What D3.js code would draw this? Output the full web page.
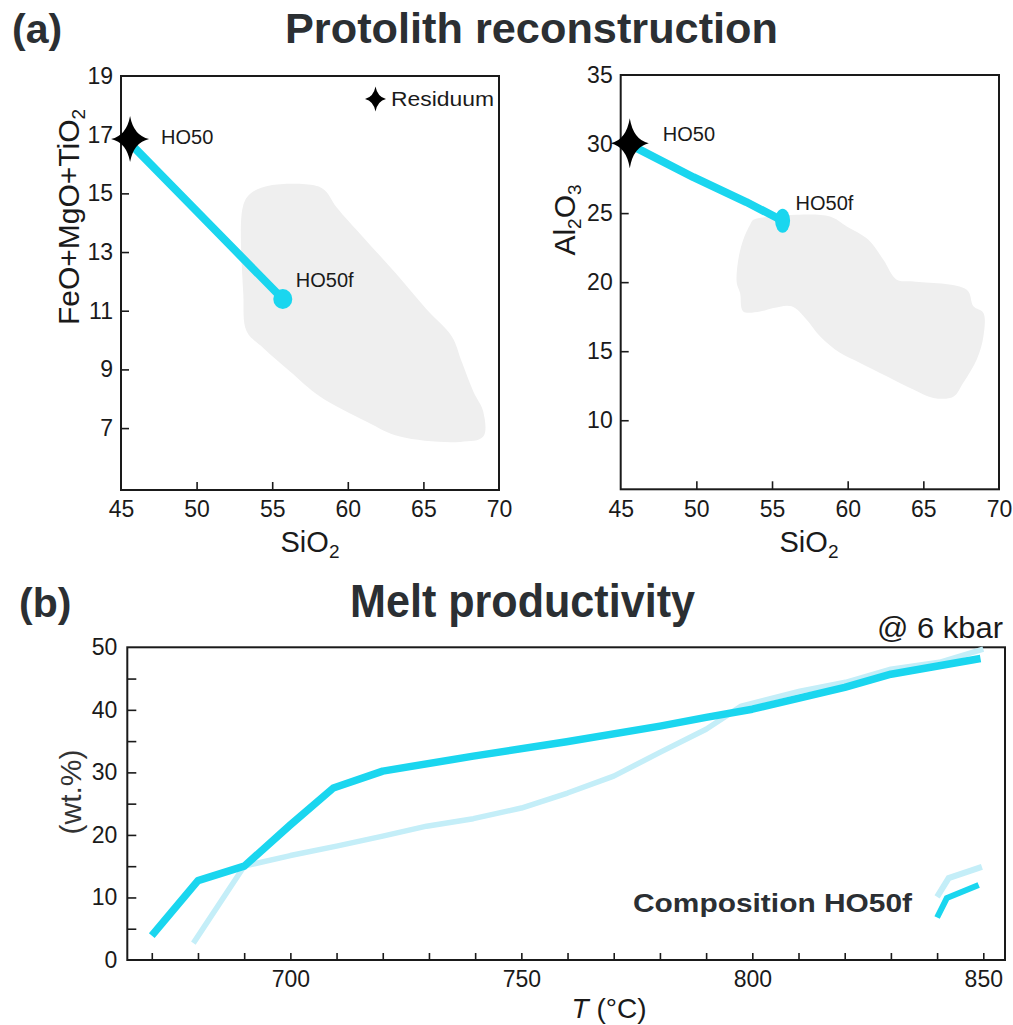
<!DOCTYPE html>
<html><head><meta charset="utf-8">
<script src="https://cdn.jsdelivr.net/npm/d3@7"></script>
<style>
body{margin:0;background:#fff;}
svg{display:block;font-family:Arial,"Liberation Sans",Helvetica,sans-serif;}
.axis path,.axis line{stroke:#1a1a1a;}
.axis text{fill:#1a1a1a;}
</style></head><body>
<svg id="c" width="1013" height="1025"></svg>
<script>
// ---------- DATA ----------
const sio2Ticks = [45, 50, 55, 60, 65, 70];
const femgtiTicks = [7, 9, 11, 13, 15, 17, 19];
const al2o3Ticks = [10, 15, 20, 25, 30, 35];
const sampleNames = ["HO50", "HO50f"];
const sampleSiO2 = [45.6, 55.7];
const sampleFeMgTi = [16.85, 11.4];
const sampleAl2O3 = [30.05, 24.45];
const feoTrendSiO2 = [45.8, 49.8, 55.7];
const feoTrendVal = [16.6, 14.5, 11.4];
const alTrendSiO2 = [45.8, 49.8, 53.3, 55.7];
const alTrendVal = [29.85, 27.6, 25.8, 24.45];
const feoFieldSiO2 = [53.53,54.85,57.83,58.49,59.27,61.03,63.23,65.22,66.87,67.53,68.3,68.96,68.96,67.44,63.45,61.25,58.16,56.18,54.41,53.31,53.09,53.05];
const feoFieldVal  = [14.98,15.27,15.27,15.1,14.52,13.5,12.24,11.04,10.13,9.27,8.25,7.56,6.71,6.53,6.71,7.22,8.08,8.93,9.73,10.3,11.56,14.52];
const alFieldSiO2 = [53.77,55.09,56.63,58.83,59.94,61.37,62.36,63.24,64.34,67.87,68.31,68.97,68.97,68.53,67.64,66.98,65.66,64.34,62.58,60.82,59.49,58.17,57.29,56.3,55.09,54.21,53.1,52.89,52.67,52.77,53.1,53.55];
const alFieldVal  = [24.52,24.75,24.88,24.75,24.03,23.07,21.62,20.18,20.05,19.45,18.25,17.77,16.08,14.39,12.71,11.7,11.62,12.22,13.18,14.15,14.88,16.08,17.28,18.25,18.13,17.88,17.88,19.21,19.94,21.62,23.07,24.15];

const tempTicks = [670,680,690,700,710,720,730,740,750,760,770,780,790,800,810,820,830,840,850];
const tempLabels = [700, 750, 800, 850];
const meltTicks = [0,5,10,15,20,25,30,35,40,45,50];
const meltLabels = [0,10,20,30,40,50];
const ho50fT    = [670, 680, 690, 700, 709.3, 720, 739.6, 759.8, 780, 790, 800, 820, 830, 849.4];
const ho50fMelt = [3.9, 12.7, 15.0, 21.6, 27.5, 30.2, 32.6, 34.9, 37.4, 38.8, 40.1, 43.6, 45.7, 48.2];
const ho50T     = [679, 690, 700, 710, 720, 729.5, 739.6, 750, 760, 770, 780, 790, 797.6, 810.3, 820.2, 830, 840.5, 850];
const ho50Melt  = [2.7, 15.0, 16.7, 18.2, 19.8, 21.4, 22.6, 24.3, 26.7, 29.4, 33.2, 36.9, 40.6, 43.0, 44.4, 46.5, 47.6, 49.7];
const legendLightT = [840, 842.5, 849.7], legendLightMelt = [10.1, 13.1, 14.9];
const legendDarkT  = [840, 842.1, 849],   legendDarkMelt  = [6.8, 9.9, 12.0];

// ---------- STYLE ----------
const CYAN = "#1ad6ef", LIGHT = "#c4eef8", FIELD = "#efefef", INK = "#1a1a1a", TITLE = "#2b2f33";
const svg = d3.select("#c");
const zip = (a, b) => a.map((v, i) => [v, b[i]]);

function starPath(W, H, k) {
  return `M0,${-H} Q${k},${-k} ${W},0 Q${k},${k} 0,${H} Q${-k},${k} ${-W},0 Q${-k},${-k} 0,${-H} Z`;
}

function frame(g, x, y, xTicks, yTicks) {
  const [x0, x1] = x.range(), [y0, y1] = y.range();
  g.append("rect").attr("x", x0).attr("y", y1).attr("width", x1 - x0).attr("height", y0 - y1)
    .attr("fill", "none").attr("stroke", INK).attr("stroke-width", 2);
  const ax = g.append("g").attr("class", "axis").attr("transform", `translate(0,${y0})`)
    .call(d3.axisBottom(x).tickValues(xTicks).tickSize(-8).tickPadding(11).tickFormat(d3.format("d")));
  ax.select(".domain").remove();
  ax.selectAll("line").attr("stroke-width", 1.6);
  ax.selectAll("text").attr("font-size", 23).attr("dy", "0.71em");
  const ay = g.append("g").attr("class", "axis").attr("transform", `translate(${x0},0)`)
    .call(d3.axisLeft(y).tickValues(yTicks).tickSize(-8).tickPadding(8).tickFormat(d3.format("d")));
  ay.select(".domain").remove();
  ay.selectAll("line").attr("stroke-width", 1.6);
  ay.selectAll("text").attr("font-size", 23);
  return {ax, ay};
}

// ---------- TITLES ----------
svg.append("text").attr("x", 12).attr("y", 43).attr("font-size", 41).attr("font-weight", "bold").attr("fill", TITLE).text("(a)");
svg.append("text").attr("x", 285).attr("y", 43).attr("font-size", 42).attr("font-weight", "bold").attr("fill", TITLE)
  .attr("textLength", 493).attr("lengthAdjust", "spacingAndGlyphs").text("Protolith reconstruction");
svg.append("text").attr("x", 19).attr("y", 617).attr("font-size", 41).attr("font-weight", "bold").attr("fill", TITLE).text("(b)");
svg.append("text").attr("x", 350).attr("y", 617).attr("font-size", 46).attr("font-weight", "bold").attr("fill", TITLE)
  .attr("textLength", 345).attr("lengthAdjust", "spacingAndGlyphs").text("Melt productivity");

// ---------- PANEL A LEFT ----------
{
  const x = d3.scaleLinear().domain([45, 70]).range([121, 499]);
  const y = d3.scaleLinear().domain([4.89, 19]).range([490, 76]);
  const g = svg.append("g");
  g.append("path").datum(zip(feoFieldSiO2, feoFieldVal))
    .attr("d", d3.line().x(d => x(d[0])).y(d => y(d[1])).curve(d3.curveCatmullRomClosed.alpha(0.5)))
    .attr("fill", FIELD);
  const f = frame(g, x, y, sio2Ticks, femgtiTicks);
  f.ax.selectAll(".tick").filter(d => d === 45 || d === 70).select("line").remove();
  f.ay.selectAll(".tick").filter(d => d === 19).select("line").remove();
  g.append("path").datum(zip(feoTrendSiO2, feoTrendVal))
    .attr("d", d3.line().x(d => x(d[0])).y(d => y(d[1])))
    .attr("fill", "none").attr("stroke", CYAN).attr("stroke-width", 8).attr("stroke-linecap", "round").attr("stroke-linejoin", "round");
  g.append("ellipse").attr("cx", x(sampleSiO2[1])).attr("cy", y(sampleFeMgTi[1])).attr("rx", 9.5).attr("ry", 10).attr("fill", CYAN);
  g.append("path").attr("d", starPath(19, 23, 3.5)).attr("transform", `translate(${x(sampleSiO2[0])},${y(sampleFeMgTi[0])})`).attr("fill", "#000");
  g.append("text").attr("x", x(sampleSiO2[0]) + 31).attr("y", y(sampleFeMgTi[0]) + 5).attr("font-size", 20).attr("fill", INK).text(sampleNames[0]);
  g.append("text").attr("x", x(sampleSiO2[1]) + 13).attr("y", y(sampleFeMgTi[1]) - 12).attr("font-size", 20).attr("fill", INK).text(sampleNames[1]);
  // legend
  g.append("path").attr("d", starPath(10.5, 12.5, 2)).attr("transform", "translate(375.5,99)").attr("fill", "#000");
  g.append("text").attr("x", 391).attr("y", 106).attr("font-size", 20).attr("fill", INK)
    .attr("textLength", 103).attr("lengthAdjust", "spacingAndGlyphs").text("Residuum");
  // axis titles
  const xt = g.append("text").attr("x", 310).attr("y", 552).attr("text-anchor", "middle").attr("font-size", 29).attr("fill", INK);
  xt.append("tspan").text("SiO");
  xt.append("tspan").attr("font-size", 19).attr("dy", 6).text("2");
  const yt = g.append("text").attr("transform", "translate(79,217) rotate(-90)").attr("text-anchor", "middle").attr("font-size", 30).attr("fill", INK);
  yt.append("tspan").text("FeO+MgO+TiO");
  yt.append("tspan").attr("font-size", 19).attr("dy", 6).text("2");
}

// ---------- PANEL A RIGHT ----------
{
  const x = d3.scaleLinear().domain([45, 70]).range([620.7, 999]);
  const y = d3.scaleLinear().domain([5, 35]).range([489.3, 75]);
  const g = svg.append("g");
  g.append("path").datum(zip(alFieldSiO2, alFieldVal))
    .attr("d", d3.line().x(d => x(d[0])).y(d => y(d[1])).curve(d3.curveCatmullRomClosed.alpha(0.5)))
    .attr("fill", FIELD);
  const f = frame(g, x, y, sio2Ticks, al2o3Ticks);
  f.ax.selectAll(".tick").filter(d => d === 45 || d === 70).select("line").remove();
  f.ay.selectAll(".tick").filter(d => d === 35).select("line").remove();
  g.append("path").datum(zip(alTrendSiO2, alTrendVal))
    .attr("d", d3.line().x(d => x(d[0])).y(d => y(d[1])))
    .attr("fill", "none").attr("stroke", CYAN).attr("stroke-width", 8).attr("stroke-linecap", "round").attr("stroke-linejoin", "round");
  g.append("ellipse").attr("cx", x(sampleSiO2[1])).attr("cy", y(sampleAl2O3[1])).attr("rx", 7.5).attr("ry", 12).attr("fill", CYAN);
  g.append("path").attr("d", starPath(19, 25, 3.5)).attr("transform", `translate(${x(sampleSiO2[0])},${y(sampleAl2O3[0])})`).attr("fill", "#000");
  g.append("text").attr("x", x(sampleSiO2[0]) + 33).attr("y", y(sampleAl2O3[0]) - 2).attr("font-size", 20).attr("fill", INK).text(sampleNames[0]);
  g.append("text").attr("x", x(sampleSiO2[1]) + 13).attr("y", y(sampleAl2O3[1]) - 11).attr("font-size", 20).attr("fill", INK).text(sampleNames[1]);
  const xt = g.append("text").attr("x", 809).attr("y", 552).attr("text-anchor", "middle").attr("font-size", 29).attr("fill", INK);
  xt.append("tspan").text("SiO");
  xt.append("tspan").attr("font-size", 19).attr("dy", 6).text("2");
  const yt = g.append("text").attr("transform", "translate(575,220) rotate(-90)").attr("text-anchor", "middle").attr("font-size", 30).attr("fill", INK);
  yt.append("tspan").text("Al");
  yt.append("tspan").attr("font-size", 19).attr("dy", 6).text("2");
  yt.append("tspan").attr("dy", -6).text("O");
  yt.append("tspan").attr("font-size", 19).attr("dy", 6).text("3");
}

// ---------- PANEL B ----------
{
  const x = d3.scaleLinear().domain([664.7, 854.7]).range([127.3, 1005]);
  const y = d3.scaleLinear().domain([0, 50]).range([960, 647.3]);
  const g = svg.append("g");
  const [x0, x1] = x.range(), [y0, y1] = y.range();
  g.append("rect").attr("x", x0).attr("y", y1).attr("width", x1 - x0).attr("height", y0 - y1)
    .attr("fill", "none").attr("stroke", INK).attr("stroke-width", 2);
  const ax = g.append("g").attr("class", "axis").attr("transform", `translate(0,${y0})`)
    .call(d3.axisBottom(x).tickValues(tempTicks).tickSize(-7).tickPadding(11)
      .tickFormat(d => tempLabels.includes(d) ? d : ""));
  ax.select(".domain").remove();
  ax.selectAll("line").attr("stroke-width", 1.6);
  ax.selectAll("text").attr("font-size", 23).attr("dy", "0.71em");
  const ay = g.append("g").attr("class", "axis").attr("transform", `translate(${x0},0)`)
    .call(d3.axisLeft(y).tickValues(meltTicks).tickSize(-9).tickPadding(10)
      .tickFormat(d => meltLabels.includes(d) ? d : ""));
  ay.select(".domain").remove();
  ay.selectAll("line").attr("stroke-width", 1.6);
  ay.selectAll(".tick").filter(d => d === 0 || d === 50).select("line").remove();
  ay.selectAll("text").attr("font-size", 23);

  g.append("path").datum(zip(ho50T, ho50Melt)).attr("d", d3.line().x(d => x(d[0])).y(d => y(d[1])))
    .attr("fill", "none").attr("stroke", LIGHT).attr("stroke-width", 5.5).attr("stroke-linejoin", "round");
  g.append("path").datum(zip(ho50fT, ho50fMelt)).attr("d", d3.line().x(d => x(d[0])).y(d => y(d[1])))
    .attr("fill", "none").attr("stroke", CYAN).attr("stroke-width", 7.5).attr("stroke-linejoin", "round");
  // legend
  g.append("path").datum(zip(legendLightT, legendLightMelt)).attr("d", d3.line().x(d => x(d[0])).y(d => y(d[1])))
    .attr("fill", "none").attr("stroke", LIGHT).attr("stroke-width", 6);
  g.append("path").datum(zip(legendDarkT, legendDarkMelt)).attr("d", d3.line().x(d => x(d[0])).y(d => y(d[1])))
    .attr("fill", "none").attr("stroke", CYAN).attr("stroke-width", 6);
  g.append("text").attr("x", 633).attr("y", 912).attr("font-size", 25).attr("font-weight", "bold").attr("fill", TITLE)
    .attr("textLength", 279).attr("lengthAdjust", "spacingAndGlyphs").text("Composition HO50f");
  // labels
  g.append("text").attr("x", 877).attr("y", 638).attr("font-size", 29).attr("fill", INK)
    .attr("textLength", 126).attr("lengthAdjust", "spacingAndGlyphs").text("@ 6 kbar");
  g.append("text").attr("transform", "translate(81,792) rotate(-90)").attr("text-anchor", "middle")
    .attr("font-size", 30).attr("fill", "#333").text("(wt.%)");
  const xt = g.append("text").attr("x", 609).attr("y", 1018).attr("text-anchor", "middle").attr("font-size", 28).attr("fill", INK);
  xt.append("tspan").attr("font-style", "italic").text("T");
  xt.append("tspan").text(" (°C)");
}
</script>
</body></html>
